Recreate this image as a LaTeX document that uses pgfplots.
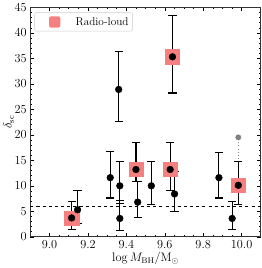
\documentclass[border=0pt]{standalone}
\usepackage{pgfplots}
\usepackage{pgfplotstable}
\pgfplotsset{compat=1.18}
\definecolor{rl}{RGB}{246,128,128}
\pgfplotstableread{
x y ep em
9.146 5.3 3.7 2.7
9.316 11.6 5.1 4.0
9.360 28.9 7.5 6.3
9.366 10.0 4.7 3.4
9.366 3.6 3.5 2.3
9.459 6.8 4.0 3.05
9.530 10.0 4.8 3.7
9.651 8.4 4.4 3.4
9.882 11.6 4.9 4.0
9.951 3.6 3.4 2.2
}\rq
\pgfplotstableread{
x y ep em
9.115 3.7 3.3 2.3
9.450 13.2 5.3 2.4
9.628 13.2 5.3 4.2
9.640 35.3 8.1 7.1
9.983 10.1 4.6 3.8
}\rl
\begin{document}
\begin{tikzpicture}
\begin{axis}[
  scale only axis, width=225pt, height=224pt,
  xmin=8.9, xmax=10.1, ymin=0, ymax=45,
  xtick={9.0,9.2,9.4,9.6,9.8,10.0},
  xticklabel style={/pgf/number format/.cd, fixed, fixed zerofill, precision=1},
  tick label style={font=\large},
  label style={font=\large},
  ytick={0,5,...,45},
  minor x tick num=3, minor y tick num=4,
  major tick length=4pt, minor tick length=2pt,
  tick style={black, line width=0.5pt},
  axis line style={black!80, line width=0.6pt},
  xlabel={$\log M_{\rm BH}/{\rm M}_\odot$},
  ylabel={$\delta_{\rm sc}$},
  xlabel style={yshift=3pt},
  ylabel style={yshift=-6pt},
  legend style={at={(0.018,0.978)}, anchor=north west, draw=black!20, rounded corners=2pt,
    font=\fontsize{11}{13}\selectfont, inner xsep=2pt, inner ysep=2.5pt},
  legend cell align=left,
  legend image code/.code={\path[use as bounding box, draw=none] (0pt,-5.5pt) rectangle (36pt,5.5pt); \fill[rl, draw=none] (12pt,-5.5pt) rectangle (23pt,5.5pt);},
]
\addplot[only marks, mark=square*, mark size=7pt, color=rl, mark options={draw=none, fill=rl}] table[x=x,y=y] {\rl};
\addlegendentry{Radio-loud}
\addplot[black, dashed, line width=0.8pt, forget plot] coordinates {(8.9,6) (10.1,6)};
\addplot[gray, dotted, line width=1pt, forget plot] coordinates {(9.983,14.7) (9.983,19.5)};
\addplot[only marks, mark=*, mark size=2.6pt, gray, forget plot] coordinates {(9.983,19.5)};
\addplot[only marks, mark=*, mark size=3.3pt, black, forget plot,
  error bars/.cd, y dir=both, y explicit,
  error bar style={line width=1.1pt},
  error mark options={rotate=90, mark size=4pt, line width=1.1pt}]
  table[x=x, y=y, y error plus=ep, y error minus=em] {\rq};
\addplot[only marks, mark=*, mark size=3.3pt, black, forget plot,
  error bars/.cd, y dir=both, y explicit,
  error bar style={line width=1.1pt},
  error mark options={rotate=90, mark size=4pt, line width=1.1pt}]
  table[x=x, y=y, y error plus=ep, y error minus=em] {\rl};
\end{axis}
\end{tikzpicture}
\end{document}
